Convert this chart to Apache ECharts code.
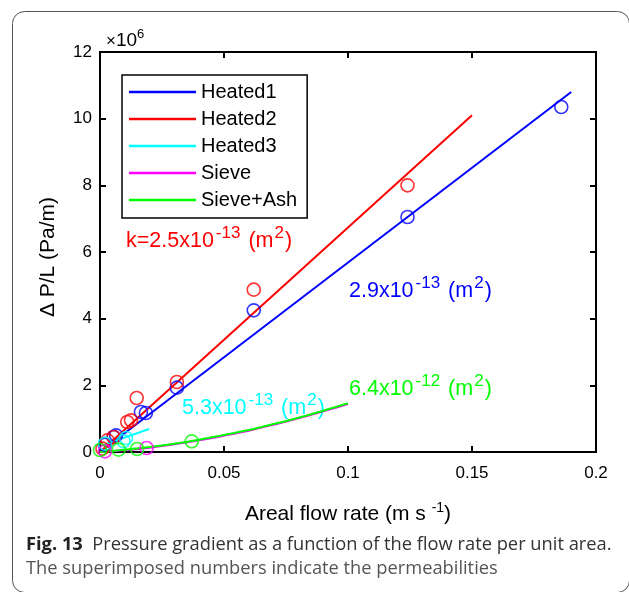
<!DOCTYPE html>
<html>
<head>
<meta charset="utf-8">
<script src="https://cdn.jsdelivr.net/npm/echarts@6/dist/echarts.min.js"></script>
<style>
html,body{margin:0;padding:0;background:#fff;}
#c{width:629px;height:592px;}
</style>
</head>
<body>
<div id="c"></div>
<script>
// ---- data (x in m/s, y in 1e6 Pa/m) ----
const seriesNames = ['Heated1','Heated2','Heated3','Sieve','Sieve+Ash'];
const colors = ['#0000ff','#ff0000','#00ffff','#ff00ff','#00ff00'];
const xTickLabels = ['0','0.05','0.1','0.15','0.2'];
const yTickLabels = ['0','2','4','6','8','10','12'];

const heated1Pts = [[0.002,0.22],[0.0055,0.45],[0.0065,0.5],[0.0165,1.2],[0.0185,1.17],[0.031,1.93],[0.062,4.25],[0.124,7.05],[0.186,10.35]];
const heated2Pts = [[0.001,0.1],[0.003,0.35],[0.0055,0.45],[0.011,0.9],[0.0125,0.95],[0.0148,1.62],[0.031,2.1],[0.062,4.87],[0.124,8.0]];
const heated3Pts = [[0.002,0.25],[0.0095,0.32],[0.0105,0.42]];
const sievePts = [[0.002,0.02],[0.0188,0.12]];
const sieveAshPts = [[0.0,0.06],[0.0075,0.07],[0.015,0.09],[0.037,0.32]];

const heated1Fit = [[0,0],[0.19,10.8]];
const heated2Fit = [[0,0],[0.15,10.1]];
const heated3Fit = [[0.001,0.2],[0.0198,0.69]];
const sieveFit = [[0,0],[0.01,0.05],[0.02,0.13],[0.03,0.23],[0.04,0.35],[0.05,0.49],[0.06,0.64],[0.07,0.82],[0.08,1.01],[0.09,1.22],[0.1,1.44]];
const sieveAshFit = [[0,0],[0.01,0.07],[0.02,0.15],[0.03,0.25],[0.04,0.37],[0.05,0.51],[0.06,0.66],[0.07,0.84],[0.08,1.03],[0.09,1.24],[0.1,1.46]];

const fits = [heated1Fit, heated2Fit, heated3Fit, sieveFit, sieveAshFit];
const pts = [heated1Pts, heated2Pts, heated3Pts, sievePts, sieveAshPts];

const F = 'Liberation Sans, Arial, Helvetica, sans-serif';
const chart = echarts.init(document.getElementById('c'));

const series = [];
[0,1,2,3,4].forEach(i => {
  series.push({
    name: seriesNames[i], type: 'line', data: fits[i], symbol: 'none', showSymbol: false,
    smooth: i >= 3 ? 0.3 : false,
    lineStyle: {color: colors[i], width: 2}, itemStyle: {color: colors[i]},
    z: 2, silent: true
  });
  series.push({
    name: seriesNames[i] + ' data', type: 'scatter', data: pts[i], symbol: 'circle', symbolSize: 13,
    itemStyle: {color: 'rgba(0,0,0,0)', borderColor: colors[i], borderWidth: 1.6},
    z: 3, silent: true
  });
});

const annRich = (color) => ({
  b: {fontSize: 21.5, fontFamily: F, fill: color, verticalAlign: 'bottom'},
  s: {fontSize: 17, fontFamily: F, fill: color, padding: [0,8,10,2], verticalAlign: 'bottom'},
  t: {fontSize: 17, fontFamily: F, fill: color, padding: [0,1,10,1], verticalAlign: 'bottom'}
});

const axLine = {show: true, onZero: false, lineStyle: {color: '#000', width: 2}};
const noTick = {show: false};
const tickStyle = {show: true, length: 6, lineStyle: {color: '#000', width: 2}};
// helper axes (in an overlaid grid) that only draw inward-pointing ticks
const tickAxisX = (pos) => ({gridIndex: 1, type: 'value', min: 0, max: 0.2, interval: 0.05, position: pos, offset: -6,
  axisLine: {show: false, onZero: false}, axisTick: tickStyle, axisLabel: {show: false}, splitLine: {show: false}});
const tickAxisY = (pos) => ({gridIndex: 1, type: 'value', min: 0, max: 12, interval: 2, position: pos, offset: -6,
  axisLine: {show: false, onZero: false}, axisTick: tickStyle, axisLabel: {show: false}, splitLine: {show: false}});

const gridBox = {left: 100, right: 33, top: 52, bottom: 140, containLabel: false};

const option = {
  backgroundColor: '#fff',
  animation: false,
  grid: [Object.assign({}, gridBox), Object.assign({}, gridBox)],
  xAxis: [{
    gridIndex: 0, type: 'value', min: 0, max: 0.2, interval: 0.05, position: 'bottom',
    axisLine: axLine, axisTick: noTick, splitLine: {show: false},
    axisLabel: {fontFamily: F, fontSize: 17, color: '#000', margin: 13,
      formatter: (v) => xTickLabels[Math.round(v / 0.05)]},
    name: '{b|Areal flow rate (m s }{s|-1}{b|)}', nameLocation: 'middle', nameGap: 49,
    nameTextStyle: {fontFamily: F, fontSize: 21, color: '#000',
      rich: {b: {fontSize: 21, fontFamily: F, color: '#000', verticalAlign: 'bottom'},
             s: {fontSize: 14, fontFamily: F, color: '#000', padding: [0,0,10,0], verticalAlign: 'bottom'}}}
  },{
    gridIndex: 0, type: 'value', min: 0, max: 0.2, interval: 0.05, position: 'top',
    axisLine: axLine, axisTick: noTick,
    axisLabel: {show: false}, splitLine: {show: false}
  }, tickAxisX('bottom'), tickAxisX('top')],
  yAxis: [{
    gridIndex: 0, type: 'value', min: 0, max: 12, interval: 2, position: 'left',
    axisLine: axLine, axisTick: noTick, splitLine: {show: false},
    axisLabel: {fontFamily: F, fontSize: 17, color: '#000', margin: 8,
      formatter: (v) => yTickLabels[Math.round(v / 2)]},
    name: 'Δ P/L (Pa/m)', nameLocation: 'middle', nameGap: 41,
    nameTextStyle: {fontFamily: F, fontSize: 21, color: '#000', padding: [0, 10, 0, 0]}
  },{
    gridIndex: 0, type: 'value', min: 0, max: 12, interval: 2, position: 'right',
    axisLine: axLine, axisTick: noTick,
    axisLabel: {show: false}, splitLine: {show: false}
  }, tickAxisY('left'), tickAxisY('right')],
  legend: {
    data: seriesNames, orient: 'vertical', left: 122, top: 75,
    backgroundColor: '#fff', borderColor: '#000', borderWidth: 1.5, borderRadius: 0,
    padding: [7, 10, 8, 7], icon: 'rect', itemWidth: 67, itemHeight: 2.5, itemGap: 7,
    textStyle: {fontFamily: F, fontSize: 20, color: '#000', lineHeight: 20},
    selectedMode: false
  },
  series: series,
  graphic: [
    {type: 'rect', left: 10, top: 9, shape: {width: 617, height: 581, r: 12},
     style: {fill: 'none', stroke: '#555', lineWidth: 1}, silent: true, z: -10},
    {type: 'text', left: 106, top: 28, style: {text: '{x|×}{b|10}{s|6}', rich: {
      x: {fontSize: 17, fontFamily: F, fill: '#000', verticalAlign: 'bottom'},
      b: {fontSize: 19, fontFamily: F, fill: '#000', verticalAlign: 'bottom'},
      s: {fontSize: 13, fontFamily: F, fill: '#000', padding: [0,0,9,0], verticalAlign: 'bottom'}}}},
    {type: 'text', left: 126, top: 225, style: {text: '{b|k=2.5x10}{s|-13}{b|(m}{t|2}{b|)}', rich: annRich('#ff0000')}},
    {type: 'text', left: 349, top: 275, style: {text: '{b|2.9x10}{s|-13}{b|(m}{t|2}{b|)}', rich: annRich('#0000ff')}},
    {type: 'text', left: 182, top: 392, style: {text: '{b|5.3x10}{s|-13}{b|(m}{t|2}{b|)}', rich: annRich('#00ffff')}},
    {type: 'text', left: 349, top: 373, style: {text: '{b|6.4x10}{s|-12}{b|(m}{t|2}{b|)}', rich: annRich('#00ff00')}},
    {type: 'text', left: 26, top: 536, style: {text: '{f|Fig. 13}{t|  Pressure gradient as a function of the flow rate per unit area.}', rich: {
      f: {fontFamily: 'Open Sans', fontWeight: 'bold', fontSize: 18.3, fill: '#222'},
      t: {fontFamily: 'Open Sans', fontSize: 18.3, fill: '#333'}}}},
    {type: 'text', left: 26, top: 560, style: {text: 'The superimposed numbers indicate the permeabilities',
      fontFamily: 'Open Sans', fontSize: 18.3, fill: '#555'}}
  ]
};
chart.setOption(option);
</script>
</body>
</html>
